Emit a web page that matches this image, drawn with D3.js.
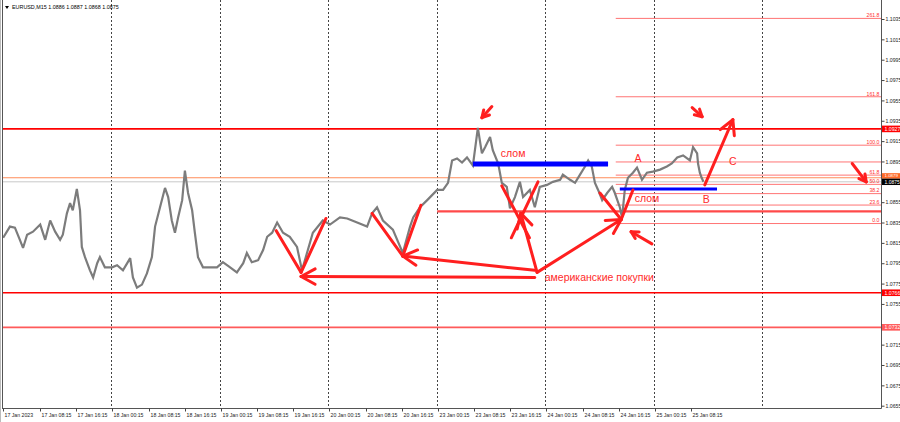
<!DOCTYPE html>
<html><head><meta charset="utf-8">
<script src="https://cdn.jsdelivr.net/npm/d3@7"></script>
<style>body{margin:0;background:#fff}svg{display:block;font-family:"Liberation Sans",Arial,sans-serif}</style>
</head><body><svg id="c" width="900" height="422"></svg>
<script>
// ---- data (hours from 17 Jan 2023 00:00, trading time) ----
const priceHours = [0.1,1.6,2.7,3.8,4.5,5.4,6.7,8.3,9.4,10.5,11.6,12.7,13.3,14.2,14.9,15.5,16.4,17.1,17.5,18.2,19.3,20.0,20.9,21.5,22.6,24.2,25.3,26.6,28.2,28.8,29.7,30.8,31.9,33.0,33.7,34.8,35.9,36.6,37.4,38.1,38.8,39.7,40.3,41.0,41.9,42.5,43.2,44.3,45.9,47.4,48.7,50.3,51.8,53.2,54.0,55.1,56.5,57.6,58.5,59.6,60.7,62.0,63.5,65.1,66.2,68.6,70.8,72.4,74.6,76.2,78.4,80.6,81.7,82.8,84.1,86.3,88.5,90.1,90.8,92.3,93.9,96.1,97.4,98.5,99.4,100.5,101.6,102.7,104.0,105.1,106.0,106.7,107.8,108.4,109.6,110.4,111.5,112.2,113.3,114.4,115.1,116.6,117.7,118.8,120.4,121.7,123.3,123.9,125.5,126.6,127.7,128.8,129.5,130.3,131.0,131.7,132.6,133.7,134.8,135.4,136.5,137.0,137.6,138.3,139.4,140.3,141.4,142.5,143.8,145.4,146.9,148.0,149.2,150.5,152.0,152.7,153.6,153.8,154.2,154.6,155.0];
const priceValues = [1.0820,1.0831,1.0830,1.0818,1.0810,1.0823,1.0826,1.0833,1.0818,1.0837,1.0826,1.0818,1.0823,1.0844,1.0854,1.0847,1.0868,1.0847,1.0811,1.0801,1.0788,1.0781,1.0795,1.0801,1.0791,1.0791,1.0793,1.0788,1.0800,1.0781,1.0771,1.0774,1.0785,1.0801,1.0831,1.0850,1.0869,1.0860,1.0837,1.0825,1.0840,1.0857,1.0886,1.0864,1.0847,1.0825,1.0801,1.0791,1.0791,1.0791,1.0796,1.0791,1.0786,1.0795,1.0805,1.0796,1.0798,1.0808,1.0821,1.0825,1.0835,1.0825,1.0821,1.0811,1.0788,1.0825,1.0837,1.0833,1.0840,1.0839,1.0835,1.0831,1.0844,1.0850,1.0837,1.0828,1.0805,1.0831,1.0840,1.0850,1.0857,1.0867,1.0867,1.0874,1.0896,1.0898,1.0894,1.0899,1.0891,1.0928,1.0903,1.0909,1.0919,1.0906,1.0893,1.0874,1.0870,1.0849,1.0860,1.0875,1.0860,1.0867,1.0850,1.0870,1.0872,1.0875,1.0877,1.0882,1.0877,1.0874,1.0882,1.0890,1.0896,1.0890,1.0874,1.0867,1.0857,1.0864,1.0870,1.0864,1.0850,1.0840,1.0867,1.0879,1.0884,1.0889,1.0877,1.0884,1.0885,1.0887,1.0890,1.0893,1.0899,1.0901,1.0896,1.0909,1.0903,1.0893,1.0884,1.0879,1.0875];

const yTickValues = [1.0655,1.0675,1.0695,1.0715,1.0735,1.0755,1.0775,1.0795,1.0815,1.0835,1.0855,1.0875,1.0895,1.0915,1.0935,1.0955,1.0975,1.0995,1.1015,1.1035];
const xTickHours = [0,8.25,16.25,24.25,32.25,40.25,48.25,56.25,64.25,72.25,80.25,88.25,96.25,104.25,112.25,120.25,128.25,136.25,144.25,152.25];
const xTickLabels = ["17 Jan 2023","17 Jan 08:15","17 Jan 16:15","18 Jan 00:15","18 Jan 08:15","18 Jan 16:15","19 Jan 00:15","19 Jan 08:15","19 Jan 16:15","20 Jan 00:15","20 Jan 08:15","20 Jan 16:15","23 Jan 00:15","23 Jan 08:15","23 Jan 16:15","24 Jan 00:15","24 Jan 08:15","24 Jan 16:15","25 Jan 00:15","25 Jan 08:15"];
const daySeparatorHours = [24,48,72,96,120,144,168];

const title = "EURUSD,M15  1.0886 1.0887 1.0868 1.0875";
const levelPrices = [1.0927, 1.0766, 1.0732];
const levelLabels = ["1.0927", "1.0766", "1.0732"];
const orangePrice = 1.0879, orangeLabel = "1.0879";
const bidPrice = 1.0875, bidLabel = "1.0875";

const fibLow = 1.0834, fibHigh = 1.0911, fibStartHour = 135.6;
const fibLevels = [0, 23.6, 38.2, 50, 61.8, 78.6, 100, 161.8, 261.8];
const fibLabels = ["0.0", "23.6", "38.2", "50.0", "61.8", "", "100.0", "161.8", "261.8"];

const supportPrice = 1.0846, supportStartHour = 96.1;
const blueBars = [{h0:104.0, h1:133.9, p:1.08925}, {h0:136.5, h1:158.0, p:1.08679}];

// annotation strokes [h1,p1,h2,p2,arrowhead]
const annoLines = [
  [117.7,1.0781, 66.0,1.0782, 1],
  [60.5,1.0827, 66.0,1.0786, 0],
  [71.5,1.0839, 66.0,1.0786, 0],
  [117.7,1.0788, 88.5,1.0802, 1],
  [81.7,1.0844, 88.5,1.0802, 0],
  [92.5,1.0852, 88.5,1.0802, 0],
  [118.2,1.0786, 114.6,1.0844, 1],
  [110.4,1.0871, 116.5,1.0820, 0],
  [118.4,1.0875, 112.5,1.0820, 0],
  [118.2,1.0786, 136.8,1.0838, 1],
  [132.1,1.0864, 136.8,1.0838, 0],
  [139.4,1.0867, 136.8,1.0838, 0],
  [143.6,1.0814, 139.0,1.0826, 2],
  [108.2,1.0949, 106.0,1.0938, 2],
  [152.5,1.0948, 154.7,1.0939, 2],
  [187.9,1.0893, 191.0,1.0875, 2],
  [155.3,1.0872, 161.5,1.0936, 1]
];
const annoTexts = [
  {t:"слом", h:112.9, p:1.0899, a:"middle"},
  {t:"слом", h:142.5, p:1.0855, a:"middle"},
  {t:"A", h:140.5, p:1.0894, a:"middle"},
  {t:"B", h:155.6, p:1.0854, a:"middle"},
  {t:"C", h:161.5, p:1.0892, a:"middle"},
  {t:"американские покупки", h:119.9, p:1.0778, a:"start"}
];

// ---- drawing ----
const svg = d3.select("#c");
const L = 2.7, R = 881.5, T = 0, B = 408.5;
const x = d3.scaleLinear().domain([0, (R - L) / 4.521]).range([L, R]);
const y = d3.scaleLinear().domain([1.0655, 1.1035]).range([405.7, 19]);

svg.append("rect").attr("width",900).attr("height",422).attr("fill","#fff");

// day separators
svg.append("g").selectAll("line").data(daySeparatorHours).join("line")
  .attr("x1",d=>Math.round(x(d))+0.5).attr("x2",d=>Math.round(x(d))+0.5)
  .attr("y1",T).attr("y2",B).attr("stroke","#444").attr("stroke-width",1).attr("stroke-dasharray","2,2");

// full-width levels
const red = "#ff0000";
svg.append("line").attr("x1",L).attr("x2",R).attr("y1",y(bidPrice)).attr("y2",y(bidPrice)).attr("stroke","#c8c8c8").attr("stroke-width",1);
svg.append("line").attr("x1",L).attr("x2",R).attr("y1",y(orangePrice)).attr("y2",y(orangePrice)).attr("stroke","#ff8c5a").attr("stroke-width",1.2);
const levelColors = [red, red, "#ff5a5a"];
svg.append("g").selectAll("line").data(levelPrices).join("line")
  .attr("x1",L).attr("x2",R).attr("y1",d=>y(d)).attr("y2",d=>y(d))
  .attr("stroke",(d,i)=>levelColors[i]).attr("stroke-width",1.6);

// fib
const fibG = svg.append("g");
fibLevels.forEach((lv,i)=>{
  const p = fibLow + (fibHigh - fibLow) * lv / 100;
  fibG.append("line").attr("x1",x(fibStartHour)).attr("x2",R).attr("y1",y(p)).attr("y2",y(p))
    .attr("stroke","#ff7474").attr("stroke-width",1);
  if (fibLabels[i]) fibG.append("text").attr("x",R-2).attr("y",y(p)-1.2).attr("text-anchor","end")
    .attr("font-size",5.2).attr("fill","#ff3030").text(fibLabels[i]);
});

// support
svg.append("line").attr("x1",x(supportStartHour)).attr("x2",R).attr("y1",y(supportPrice)).attr("y2",y(supportPrice))
  .attr("stroke","#ff4a4a").attr("stroke-width",2.2);

// price line
const line = d3.line().x((d,i)=>x(priceHours[i])).y(d=>y(d));
svg.append("path").datum(priceValues).attr("d",line).attr("fill","none")
  .attr("stroke","#7c7c7c").attr("stroke-width",2.2).attr("stroke-linejoin","miter").attr("stroke-miterlimit",3);

// blue bars
svg.append("g").selectAll("line").data(blueBars).join("line")
  .attr("x1",d=>x(d.h0)).attr("x2",d=>x(d.h1)).attr("y1",d=>y(d.p)).attr("y2",d=>y(d.p))
  .attr("stroke","#0000ff").attr("stroke-width",(d,i)=>i===0?5:3);

// annotations
const ag = svg.append("g").attr("stroke","#ff1f1f").attr("stroke-linecap","round").attr("fill","none");
annoLines.forEach(a=>{
  const x1=x(a[0]), y1=y(a[1]), x2=x(a[2]), y2=y(a[3]);
  ag.append("line").attr("x1",x1).attr("y1",y1).attr("x2",x2).attr("y2",y2).attr("stroke-width",3);
  if (a[4]) {
    const len = a[4]===1 ? 16 : 8, ang = Math.atan2(y1-y2, x1-x2), sp = 0.5;
    [ang-sp, ang+sp].forEach(t=>{
      ag.append("line").attr("x1",x2).attr("y1",y2).attr("x2",x2+len*Math.cos(t)).attr("y2",y2+len*Math.sin(t)).attr("stroke-width",3);
    });
  }
});
svg.append("g").selectAll("text").data(annoTexts).join("text")
  .attr("x",d=>x(d.h)).attr("y",d=>y(d.p)).attr("text-anchor",d=>d.a)
  .attr("font-size",10.5).attr("fill","#ff2a2a").text(d=>d.t);

// frame / axes
svg.append("line").attr("x1",2.5).attr("x2",2.5).attr("y1",0).attr("y2",B).attr("stroke","#555");
svg.append("line").attr("x1",0.5).attr("x2",0.5).attr("y1",0).attr("y2",422).attr("stroke","#bbb");
svg.append("line").attr("x1",2).attr("x2",R).attr("y1",B).attr("y2",B).attr("stroke","#555");
svg.append("line").attr("x1",R).attr("x2",R).attr("y1",0).attr("y2",B).attr("stroke","#555");

// axis price tags hide tick labels they cover
const tagPrices = [levelPrices[0], levelPrices[1], levelPrices[2], orangePrice, bidPrice];
const covered = v => tagPrices.some(p => Math.abs(y(p) - y(v)) < 6.5);
const yAxis = d3.axisRight(y).tickValues(yTickValues).tickSize(3).tickPadding(1)
  .tickFormat(v => covered(v) ? "" : d3.format(".4f")(v));
const ya = svg.append("g").attr("transform",`translate(${R},0)`).call(yAxis);
ya.select(".domain").remove();
ya.selectAll("text").attr("font-size",5.2).attr("fill","#222").attr("font-family","Liberation Sans, Arial");
ya.selectAll("line").attr("stroke","#444");

const xa = svg.append("g");
xTickHours.forEach((h,i)=>{
  const xx = Math.round(x(h))+0.5;
  xa.append("line").attr("x1",xx).attr("x2",xx).attr("y1",B).attr("y2",B+3).attr("stroke","#444");
  xa.append("text").attr("x",xx+1).attr("y",417).attr("font-size",5.2).attr("fill","#222").text(xTickLabels[i]);
});

// price tags: top offset, height, font size, text baseline offset
function priceTag(p, label, bg, fg, top, h, fs, base) {
  const yy = y(p);
  svg.append("rect").attr("x",R+0.5).attr("y",yy+top).attr("width",900-R).attr("height",h).attr("fill",bg);
  svg.append("text").attr("x",R+3).attr("y",yy+base).attr("font-size",fs).attr("fill",fg).text(label);
}
priceTag(levelPrices[0], levelLabels[0], red, "#fff", -3.3, 6.6, 5.2, 1.9);
priceTag(levelPrices[1], levelLabels[1], red, "#fff", -3.3, 6.6, 5.2, 1.9);
priceTag(levelPrices[2], levelLabels[2], "#ff5a5a", "#fff", -3.3, 6.6, 5.2, 1.9);
priceTag(orangePrice, orangeLabel, "#ff6a28", "#fff", -4.6, 5.5, 4.4, -0.3);
priceTag(bidPrice, bidLabel, "#000", "#fff", -3.2, 6.4, 5.0, 2.0);

// title
svg.append("path").attr("d","M5,6 L9,6 L7,9 Z").attr("fill","#000");
svg.append("text").attr("x",12).attr("y",9).attr("font-size",5.4).attr("fill","#000").text(title);
</script></body></html>
